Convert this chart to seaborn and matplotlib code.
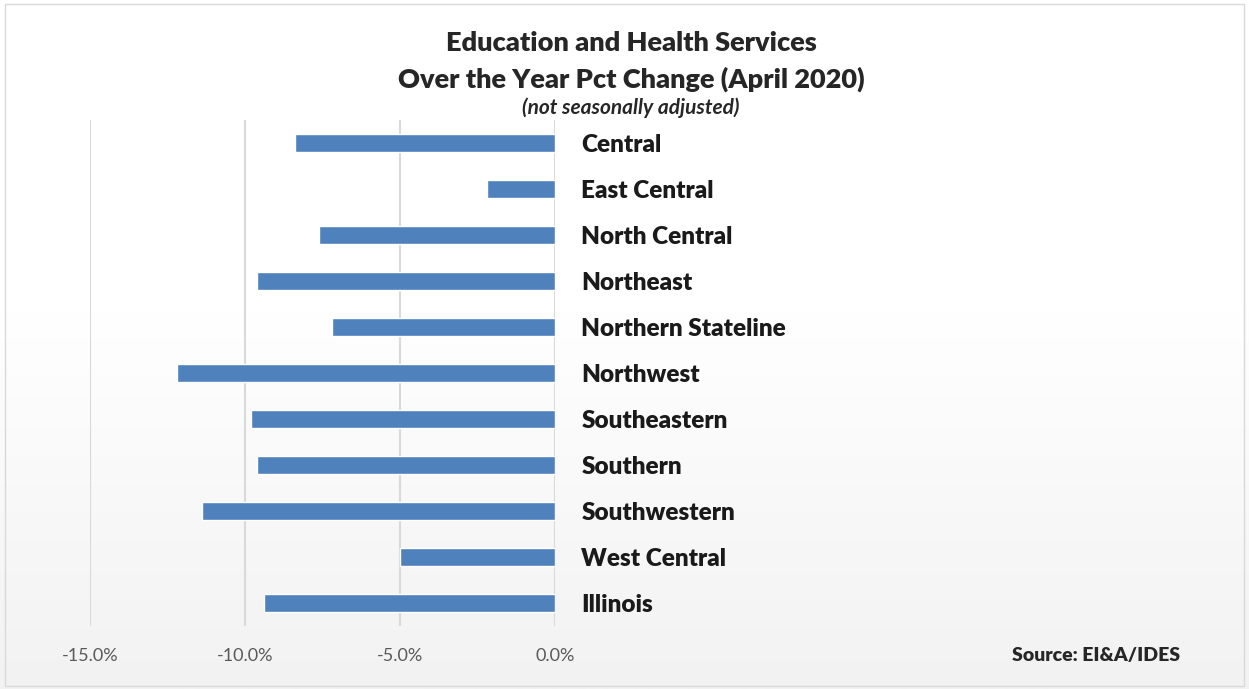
import matplotlib
matplotlib.use("Agg")
import matplotlib.pyplot as plt
import seaborn as sns
import pandas as pd
import numpy as np

regions = ["Central", "East Central", "North Central", "Northeast", "Northern Stateline",
           "Northwest", "Southeastern", "Southern", "Southwestern", "West Central", "Illinois"]
pct_change = [-8.4, -2.2, -7.6, -9.6, -7.2, -12.2, -9.8, -9.6, -11.4, -5.0, -9.4]
x_ticks = [-15, -10, -5, 0]
x_tick_labels = ["-15.0%", "-10.0%", "-5.0%", "0.0%"]

df = pd.DataFrame({"region": regions, "pct": pct_change})

sns.set_style("white")
plt.rcParams["font.family"] = ["Lato", "DejaVu Sans"]

fig = plt.figure(figsize=(12.49, 6.89), dpi=100)

# background: white fading to light gray, thin border
bg = fig.add_axes([0, 0, 1, 1], zorder=0)
grad = np.linspace(0, 1, 256)
grad = np.clip((grad - 0.45) / 0.55, 0, 1)[:, None]
bg.imshow(grad, aspect="auto", cmap=matplotlib.colors.LinearSegmentedColormap.from_list(
    "bgc", ["#ffffff", "#f2f2f2"]), extent=[0, 1, 0, 1], origin="upper")
bg.add_patch(plt.Rectangle((0.004, 0.004), 0.992, 0.99, fill=False, edgecolor="#d9d9d9", lw=1))
bg.set_xlim(0, 1)
bg.set_ylim(0, 1)
bg.axis("off")

ax = fig.add_axes([90 / 1249, 63 / 689, 465 / 1249, 506 / 689], zorder=1)
ax.patch.set_alpha(0)
sns.barplot(data=df, y="region", x="pct", orient="h", color="#4f81bd",
            width=0.37, saturation=1, ax=ax, zorder=3)

ax.set_xlim(-15, 0)
ax.set_ylim(len(regions) - 0.5, -0.5)
ax.set_xticks(x_ticks)
ax.set_xticklabels(x_tick_labels, color="#595959", fontsize=13)
ax.tick_params(axis="x", length=0, pad=16)
ax.grid(axis="x", color="#d9d9d9", lw=1.5, zorder=0)
ax.yaxis.set_ticks_position("right")
ax.tick_params(axis="y", length=0, pad=19, labelsize=17.5)
for lbl in ax.get_yticklabels():
    lbl.set_fontweight("heavy")
    lbl.set_color("#1a1a1a")
ax.set_xlabel("")
ax.set_ylabel("")
for s in ax.spines.values():
    s.set_visible(False)

fig.text(631 / 1249, 1 - 43 / 689, "Education and Health Services", ha="center", va="center",
         fontsize=19.5, fontweight="heavy")
fig.text(631 / 1249, 1 - 79 / 689, "Over the Year Pct Change (April 2020)", ha="center", va="center",
         fontsize=19.5, fontweight="heavy")
fig.text(631 / 1249, 1 - 108 / 689, "(not seasonally adjusted)", ha="center", va="center",
         fontsize=15, fontstyle="italic", fontweight="bold")
fig.text(1096 / 1249, 1 - 655 / 689, "Source: EI&A/IDES", ha="center", va="center",
         fontsize=14, fontweight="heavy")

fig.savefig("out.png", dpi=100)
